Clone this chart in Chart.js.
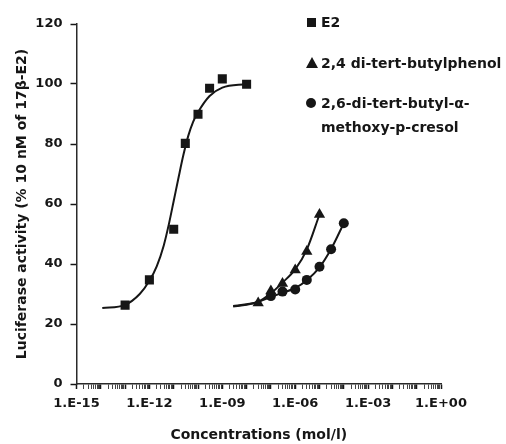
<!DOCTYPE html>
<html><head><meta charset="utf-8">
<script src="https://cdn.jsdelivr.net/npm/chart.js@4"></script>
<style>
html,body{margin:0;padding:0;background:#fff;}
#wrap{position:relative;width:506px;height:444px;overflow:hidden;}
#c{position:absolute;left:0;top:0;}
.lg{position:absolute;font:bold 14px "DejaVu Sans";color:#161616;white-space:nowrap;line-height:1;}
.sq{position:absolute;background:#161616;}
.tri{position:absolute;width:0;height:0;border-left:6px solid transparent;border-right:6px solid transparent;border-bottom:11px solid #161616;}
.dot{position:absolute;background:#161616;border-radius:50%;}
</style></head><body>
<div id="wrap">
<canvas id="c" width="506" height="444"></canvas>
<div class="sq" style="left:306.5px;top:17.5px;width:9px;height:9px"></div>
<div class="lg" style="left:321px;top:15px">E2</div>
<div class="tri" style="left:306px;top:57px"></div>
<div class="lg" style="left:321px;top:56px">2,4 di-tert-butylphenol</div>
<div class="dot" style="left:306px;top:98px;width:10px;height:10px"></div>
<div class="lg" style="left:321px;top:96px">2,6-di-tert-butyl-α-</div>
<div class="lg" style="left:321px;top:120px">methoxy-p-cresol</div>
</div>
<script>
// ---- data ----
const seriesNames = ['E2', '2,4 di-tert-butylphenol', '2,6-di-tert-butyl-α-methoxy-p-cresol'];

const e2Conc = [1e-13, 1e-12, 1e-11, 3e-11, 1e-10, 3e-10, 1e-9, 1e-8];
const e2Act  = [26.3, 34.7, 51.6, 80.2, 89.9, 98.6, 101.7, 99.9];

const dtbpConc = [3e-8, 1e-7, 3e-7, 1e-6, 3e-6, 1e-5];
const dtbpAct  = [27.0, 31.0, 33.5, 38.0, 44.2, 56.5];

const bhaConc = [1e-7, 3e-7, 1e-6, 3e-6, 1e-5, 3e-5, 1e-4];
const bhaAct  = [29.3, 30.8, 31.5, 34.7, 39.1, 44.9, 53.6];

// fitted curves
const e2FitConc = [1.15e-14, 1e-13, 4e-13, 1e-12, 2e-12, 3.9e-12, 6.3e-12, 1e-11, 1.6e-11, 2.5e-11, 4e-11, 6.3e-11, 1e-10, 3e-10, 1e-9, 1e-8];
const e2FitAct  = [25.3, 26.4, 30.0, 34.4, 39.2, 46.2, 53.2, 61.0, 69.0, 76.3, 82.8, 87.4, 90.6, 96.0, 98.8, 100.0];

const dtbpFitConc = [2.8e-9, 1e-8, 3e-8, 1e-7, 3e-7, 1e-6, 3e-6, 1e-5];
const dtbpFitAct  = [26.0, 26.6, 27.4, 30.2, 33.8, 38.2, 44.8, 56.5];

const bhaFitConc = [2.8e-9, 1e-8, 3e-8, 1e-7, 3e-7, 1e-6, 3e-6, 1e-5, 3e-5, 1e-4];
const bhaFitAct  = [25.8, 26.4, 27.4, 29.0, 30.4, 32.0, 34.6, 38.9, 45.0, 53.6];

const xTickExponents = [-15, -12, -9, -6, -3, 0];
const xTickLabels = ['1.E-15', '1.E-12', '1.E-09', '1.E-06', '1.E-03', '1.E+00'];
const yTicks = [0, 20, 40, 60, 80, 100, 120];

const xTitle = 'Concentrations (mol/l)';
const yTitle = 'Luciferase activity (% 10 nM of 17β-E2)';

// ---- build ----
const pts = (xs, ys) => xs.map((x, i) => ({x: x, y: ys[i]}));
const INK = '#161616';
const FONT = '"DejaVu Sans"';

const curve = (label, xs, ys) => ({
  label, data: pts(xs, ys), showLine: true, borderColor: INK, borderWidth: 2,
  pointRadius: 0, cubicInterpolationMode: 'monotone', fill: false, order: 2
});
const marks = (label, xs, ys, style, r) => ({
  label, data: pts(xs, ys), showLine: false, pointStyle: style, pointRadius: r,
  pointBackgroundColor: INK, pointBorderColor: INK, pointBorderWidth: 0, order: 1
});

new Chart(document.getElementById('c'), {
  type: 'line',
  data: {
    datasets: [
      curve(seriesNames[0] + ' fit', e2FitConc, e2FitAct),
      curve(seriesNames[1] + ' fit', dtbpFitConc, dtbpFitAct),
      curve(seriesNames[2] + ' fit', bhaFitConc, bhaFitAct),
      marks(seriesNames[0], e2Conc, e2Act, 'rect', 6.4),
      marks(seriesNames[1], dtbpConc, dtbpAct, 'triangle', 6.5),
      marks(seriesNames[2], bhaConc, bhaAct, 'circle', 5)
    ]
  },
  options: {
    responsive: false,
    animation: false,
    events: [],
    layout: {padding: {top: 24, right: 65, left: 0, bottom: 0}},
    plugins: {legend: {display: false}, tooltip: {enabled: false}},
    scales: {
      x: {
        type: 'logarithmic',
        min: 1e-15, max: 1,
        afterBuildTicks: (scale) => {
          const t = [];
          for (let e = xTickExponents[0]; e <= xTickExponents[xTickExponents.length - 1]; e++) {
            t.push({value: Math.pow(10, e), major: true});
            if (e < 0) for (let m = 2; m <= 9; m++) t.push({value: m * Math.pow(10, e), major: false});
          }
          scale.ticks = t;
        },
        afterFit: (scale) => { scale.height = 60; },
        ticks: {
          autoSkip: false, maxRotation: 0, minRotation: 0, padding: 7,
          color: INK, font: {family: FONT, size: 13, weight: 'bold'},
          callback: function (value, index, ticks) {
            if (!ticks[index].major) return '';
            const e = Math.round(Math.log10(value));
            const k = xTickExponents.indexOf(e);
            return k >= 0 ? xTickLabels[k] : '';
          }
        },
        grid: {drawOnChartArea: false, drawTicks: true, tickLength: 5,
               tickColor: (ctx) => (ctx.tick && ctx.tick.major ? INK : '#444'),
               tickWidth: (ctx) => (ctx.tick && ctx.tick.major ? 1.5 : 1)},
        border: {display: true, color: '#2a2a2a', width: 1.5},
        title: {display: true, text: xTitle, color: INK,
                font: {family: FONT, size: 14, weight: 'bold'}, padding: {top: 0, bottom: 0}}
      },
      y: {
        type: 'linear', min: yTicks[0], max: yTicks[yTicks.length - 1],
        afterBuildTicks: (scale) => { scale.ticks = yTicks.map(v => ({value: v})); },
        afterFit: (scale) => { scale.width = 76.5; },
        ticks: {padding: 8, color: INK, font: {family: FONT, size: 13, weight: 'bold'}},
        grid: {drawOnChartArea: false, drawTicks: true, tickLength: 6, tickColor: INK, tickWidth: 1.5},
        border: {display: true, color: '#2a2a2a', width: 1.5},
        title: {display: true, text: yTitle, color: INK,
                font: {family: FONT, size: 14, weight: 'bold'}, padding: {top: 14, bottom: 0}}
      }
    }
  }
});
</script>
</body></html>
